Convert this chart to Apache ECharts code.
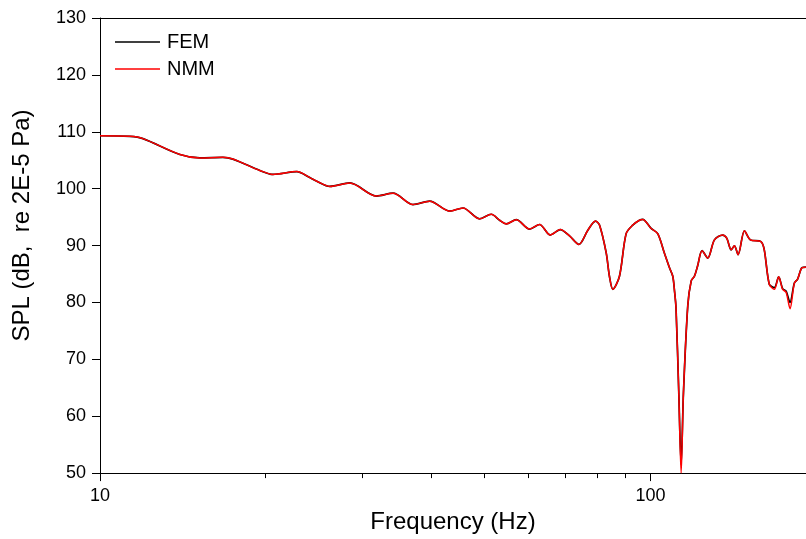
<!DOCTYPE html>
<html>
<head>
<meta charset="utf-8">
<script src="https://cdn.jsdelivr.net/npm/echarts@6/dist/echarts.min.js"></script>
<style>html,body{margin:0;padding:0;background:#fff}#c{width:806px;height:539px}</style>
</head>
<body>
<div id="c"></div>
<script>
// Frequency (Hz) sample points
const freq = [10, 11.33, 11.97, 13.97, 15.19, 16.72, 17.43, 19.52, 20.61, 22.78,
  24.05, 24.77, 26.15, 28.43, 31.78, 34.07, 37.03, 39.71, 43.17, 45.64,
  48.93, 51.38, 53.21, 54.71, 57.05, 60.31, 62.89, 65.77, 68.57, 71.29,
  74.12, 76.96, 79.48, 80.81, 83.11, 84.24, 85.44, 87.85, 90.34, 92.88,
  95.5, 96.83, 100.3, 103.1, 106.0, 108.3, 109.8, 110.6, 111.3, 112.6,
  113.7, 114.8, 116.9, 118.6, 120.2, 121.8, 124.1, 127.1, 130.7, 135.3,
  137.6, 140.2, 142.1, 144.3, 148.2, 151.9, 158.8, 161.0, 164.4, 167.9,
  171.0, 173.9, 176.4, 179.3, 182.6, 185.1, 188.5, 191.7];
// SPL (dB) - FEM
const fem = [109.3, 109.2, 108.8, 106.0, 105.4, 105.5, 105.2, 103.2, 102.5, 103.0,
  101.95, 101.3, 100.4, 101.0, 98.7, 99.2, 97.2, 97.8, 96.05, 96.6,
  94.7, 95.5, 94.45, 93.8, 94.55, 92.9, 93.7, 91.85, 92.8, 91.7,
  90.2, 92.7, 94.3, 93.6, 88.7, 84.6, 82.3, 84.6, 92.1, 93.6,
  94.45, 94.6, 93.0, 92.1, 88.7, 86.1, 84.6, 82.0, 79.0, 64.0,
  51.5, 64.0, 79.4, 83.8, 84.6, 86.4, 89.1, 87.8, 91.0, 91.85,
  91.3, 89.25, 89.95, 88.4, 92.6, 91.0, 90.7, 89.25, 83.2, 82.6,
  84.5, 82.4, 82.0, 80.0, 83.4, 84.1, 86.1, 86.2];
// SPL (dB) - NMM
const nmm = [109.3, 109.2, 108.8, 106.0, 105.4, 105.5, 105.2, 103.2, 102.5, 103.0,
  101.95, 101.3, 100.4, 101.0, 98.7, 99.2, 97.2, 97.8, 96.05, 96.6,
  94.7, 95.5, 94.45, 93.8, 94.55, 92.9, 93.7, 91.85, 92.8, 91.7,
  90.2, 92.7, 94.3, 93.6, 88.7, 84.6, 82.3, 84.6, 92.1, 93.6,
  94.45, 94.6, 93.0, 92.1, 88.7, 86.1, 84.6, 82.0, 79.0, 64.0,
  50.0, 64.0, 79.4, 83.8, 84.6, 86.4, 89.1, 87.8, 91.0, 91.85,
  91.3, 89.25, 89.95, 88.4, 92.6, 91.0, 90.7, 89.25, 83.2, 82.3,
  84.5, 82.3, 81.8, 78.9, 83.4, 84.1, 86.1, 86.2];
const majorTicks = [10, 100];
const minorTicks = [20, 30, 40, 50, 60, 70, 80, 90];
const yTicks = [50, 60, 70, 80, 90, 100, 110, 120, 130];

const FONT = 'Liberation Sans, Arial, sans-serif';
const xMin = 10, xMax = 191.7;

const chart = echarts.init(document.getElementById('c'), null, {renderer: 'canvas'});
chart.setOption({
  animation: false,
  backgroundColor: '#fff',
  grid: {left: 100, right: 0, top: 18, bottom: 59, containLabel: false},
  legend: {
    orient: 'vertical', left: 115, top: 32, padding: 0,
    data: ['FEM', 'NMM'],
    icon: 'rect',
    itemWidth: 45, itemHeight: 1.5, itemGap: 7,
    textStyle: {fontFamily: FONT, fontSize: 20, lineHeight: 20, color: '#000', padding: [0, 0, 0, 2]}
  },
  xAxis: [
    {
      type: 'log', logBase: 10, min: xMin, max: xMax,
      name: 'Frequency (Hz)', nameLocation: 'middle', nameGap: 31,
      nameTextStyle: {fontFamily: FONT, fontSize: 24, color: '#000'},
      axisLine: {show: true, lineStyle: {color: '#000', width: 1}},
      axisTick: {show: true, inside: false, length: 8, lineStyle: {color: '#000'}, customValues: majorTicks},
      axisLabel: {show: true, margin: 14, fontFamily: FONT, fontSize: 18, color: '#000', customValues: majorTicks,
        formatter: v => String(Math.round(v))},
      splitLine: {show: false}
    },
    {
      type: 'log', logBase: 10, min: xMin, max: xMax, position: 'bottom',
      axisLine: {show: false},
      axisTick: {show: true, inside: false, length: 5, lineStyle: {color: '#000'}, customValues: minorTicks},
      axisLabel: {show: false},
      splitLine: {show: false}
    },
    {
      type: 'log', logBase: 10, min: xMin, max: xMax, position: 'top',
      axisLine: {show: true, lineStyle: {color: '#000', width: 1}},
      axisTick: {show: false}, axisLabel: {show: false}, splitLine: {show: false}
    }
  ],
  yAxis: {
    type: 'value', min: 50, max: 130, interval: 10,
    name: 'SPL (dB,  re 2E-5 Pa)', nameLocation: 'middle', nameGap: 66, nameRotate: 90,
    nameTextStyle: {fontFamily: FONT, fontSize: 24, color: '#000', padding: [0, 0, 0, 40]},
    axisLine: {show: true, lineStyle: {color: '#000', width: 1}},
    axisTick: {show: true, inside: false, length: 8, lineStyle: {color: '#000'}, customValues: yTicks},
    axisLabel: {margin: 14, fontFamily: FONT, fontSize: 18, color: '#000', customValues: yTicks},
    splitLine: {show: false}
  },
  series: [
    {
      name: 'FEM', type: 'line', xAxisIndex: 0, symbol: 'none', smooth: 0.3,
      data: freq.map((f, i) => [f, fem[i]]),
      lineStyle: {color: '#000000', width: 1.7}, itemStyle: {color: '#000000'}, z: 2
    },
    {
      name: 'NMM', type: 'line', xAxisIndex: 0, symbol: 'none', smooth: 0.3,
      data: freq.map((f, i) => [f, nmm[i]]),
      lineStyle: {color: '#ff0000', width: 1.5}, itemStyle: {color: '#ff0000'}, z: 3
    }
  ]
});
</script>
</body>
</html>
